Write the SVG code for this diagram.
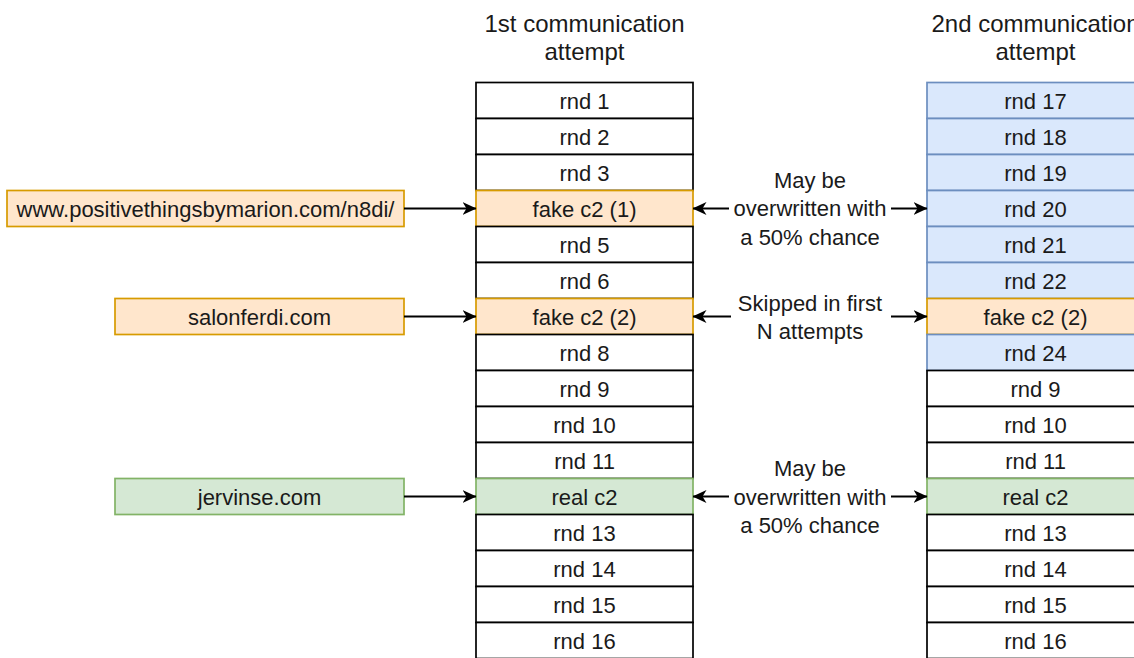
<svg xmlns="http://www.w3.org/2000/svg" width="1134" height="658" viewBox="0 0 1134 658">
<style>
.c{fill:#ffffff;stroke:#000000;stroke-width:1.7}
.o{fill:#ffe6cc;stroke:#d79b00;stroke-width:1.7}
.b{fill:#dae8fc;stroke:#6c8ebf;stroke-width:1.7}
.g{fill:#d5e8d4;stroke:#82b366;stroke-width:1.7}
text{font-family:"Liberation Sans",Arial,sans-serif;font-size:22px;fill:#1a1a1a;text-anchor:middle}
.h{font-size:24px}
.e{fill:none;stroke:#000000;stroke-width:1.8}
</style>
<defs>
<marker id="ah" viewBox="0 0 14 13" refX="13.5" refY="6.5" markerWidth="14" markerHeight="13" markerUnits="userSpaceOnUse" orient="auto">
<path d="M0,0 L14,6.5 L0,13 L4,6.5 Z" fill="#000000"/>
</marker>
</defs>
<rect width="1134" height="658" fill="#ffffff"/>

<g id="title1"><text class="h" x="584.5" y="31.5">1st communication</text><text class="h" x="584.5" y="60">attempt</text></g>
<g id="title2"><text class="h" x="1035.5" y="31.5">2nd communication</text><text class="h" x="1035.5" y="60">attempt</text></g>

<g id="col1">
<g id="l1"><rect class="c" x="476" y="82.5" width="217" height="36"/><text x="584.5" y="108.5">rnd 1</text></g>
<g id="l2"><rect class="c" x="476" y="118.5" width="217" height="36"/><text x="584.5" y="144.5">rnd 2</text></g>
<g id="l3"><rect class="c" x="476" y="154.5" width="217" height="36"/><text x="584.5" y="180.5">rnd 3</text></g>
<g id="l4"><rect class="o" x="476" y="190.5" width="217" height="36"/><text x="584.5" y="216.5">fake c2 (1)</text></g>
<g id="l5"><rect class="c" x="476" y="226.5" width="217" height="36"/><text x="584.5" y="252.5">rnd 5</text></g>
<g id="l6"><rect class="c" x="476" y="262.5" width="217" height="36"/><text x="584.5" y="288.5">rnd 6</text></g>
<g id="l7"><rect class="o" x="476" y="298.5" width="217" height="36"/><text x="584.5" y="324.5">fake c2 (2)</text></g>
<g id="l8"><rect class="c" x="476" y="334.5" width="217" height="36"/><text x="584.5" y="360.5">rnd 8</text></g>
<g id="l9"><rect class="c" x="476" y="370.5" width="217" height="36"/><text x="584.5" y="396.5">rnd 9</text></g>
<g id="l10"><rect class="c" x="476" y="406.5" width="217" height="36"/><text x="584.5" y="432.5">rnd 10</text></g>
<g id="l11"><rect class="c" x="476" y="442.5" width="217" height="36"/><text x="584.5" y="468.5">rnd 11</text></g>
<g id="l12"><rect class="g" x="476" y="478.5" width="217" height="36"/><text x="584.5" y="504.5">real c2</text></g>
<g id="l13"><rect class="c" x="476" y="514.5" width="217" height="36"/><text x="584.5" y="540.5">rnd 13</text></g>
<g id="l14"><rect class="c" x="476" y="550.5" width="217" height="36"/><text x="584.5" y="576.5">rnd 14</text></g>
<g id="l15"><rect class="c" x="476" y="586.5" width="217" height="36"/><text x="584.5" y="612.5">rnd 15</text></g>
<g id="l16"><rect class="c" x="476" y="622.5" width="217" height="36"/><text x="584.5" y="648.5">rnd 16</text></g>
</g>

<g id="col2">
<g id="r1"><rect class="b" x="927" y="82.5" width="217" height="36"/><text x="1035.5" y="108.5">rnd 17</text></g>
<g id="r2"><rect class="b" x="927" y="118.5" width="217" height="36"/><text x="1035.5" y="144.5">rnd 18</text></g>
<g id="r3"><rect class="b" x="927" y="154.5" width="217" height="36"/><text x="1035.5" y="180.5">rnd 19</text></g>
<g id="r4"><rect class="b" x="927" y="190.5" width="217" height="36"/><text x="1035.5" y="216.5">rnd 20</text></g>
<g id="r5"><rect class="b" x="927" y="226.5" width="217" height="36"/><text x="1035.5" y="252.5">rnd 21</text></g>
<g id="r6"><rect class="b" x="927" y="262.5" width="217" height="36"/><text x="1035.5" y="288.5">rnd 22</text></g>
<g id="r7"><rect class="o" x="927" y="298.5" width="217" height="36"/><text x="1035.5" y="324.5">fake c2 (2)</text></g>
<g id="r8"><rect class="b" x="927" y="334.5" width="217" height="36"/><text x="1035.5" y="360.5">rnd 24</text></g>
<g id="r9"><rect class="c" x="927" y="370.5" width="217" height="36"/><text x="1035.5" y="396.5">rnd 9</text></g>
<g id="r10"><rect class="c" x="927" y="406.5" width="217" height="36"/><text x="1035.5" y="432.5">rnd 10</text></g>
<g id="r11"><rect class="c" x="927" y="442.5" width="217" height="36"/><text x="1035.5" y="468.5">rnd 11</text></g>
<g id="r12"><rect class="g" x="927" y="478.5" width="217" height="36"/><text x="1035.5" y="504.5">real c2</text></g>
<g id="r13"><rect class="c" x="927" y="514.5" width="217" height="36"/><text x="1035.5" y="540.5">rnd 13</text></g>
<g id="r14"><rect class="c" x="927" y="550.5" width="217" height="36"/><text x="1035.5" y="576.5">rnd 14</text></g>
<g id="r15"><rect class="c" x="927" y="586.5" width="217" height="36"/><text x="1035.5" y="612.5">rnd 15</text></g>
<g id="r16"><rect class="c" x="927" y="622.5" width="217" height="36"/><text x="1035.5" y="648.5">rnd 16</text></g>
</g>

<g id="src1"><rect class="o" x="7" y="190.5" width="397" height="36"/><text x="205.5" y="216.5">www.positivethingsbymarion.com/n8di/</text></g>
<g id="src2"><rect class="o" x="115" y="298.5" width="289" height="36"/><text x="259.5" y="324.5">salonferdi.com</text></g>
<g id="src3"><rect class="g" x="115" y="478.5" width="289" height="36"/><text x="259.5" y="504.5">jervinse.com</text></g>

<g id="lab1"><text x="810" y="187.5">May be</text><text x="810" y="216">overwritten with</text><text x="810" y="244.5">a 50% chance</text></g>
<g id="lab2"><text x="810" y="310.5">Skipped in first</text><text x="810" y="339">N attempts</text></g>
<g id="lab3"><text x="810" y="476">May be</text><text x="810" y="504.5">overwritten with</text><text x="810" y="533">a 50% chance</text></g>

<g id="connectors">
<path class="e" d="M404,208.5 H476" marker-end="url(#ah)"/>
<path class="e" d="M404,316.5 H476" marker-end="url(#ah)"/>
<path class="e" d="M404,496.5 H476" marker-end="url(#ah)"/>
<path class="e" d="M729,208.5 H693" marker-end="url(#ah)"/>
<path class="e" d="M891,208.5 H927" marker-end="url(#ah)"/>
<path class="e" d="M731,316.5 H693" marker-end="url(#ah)"/>
<path class="e" d="M891,316.5 H927" marker-end="url(#ah)"/>
<path class="e" d="M729,496.5 H693" marker-end="url(#ah)"/>
<path class="e" d="M891,496.5 H927" marker-end="url(#ah)"/>
</g>
</svg>
